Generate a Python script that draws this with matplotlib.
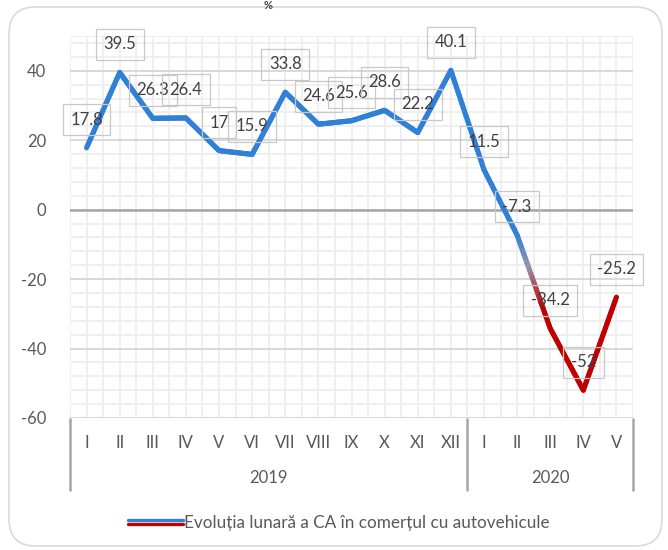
import numpy as np
import matplotlib
matplotlib.use("Agg")
import matplotlib.pyplot as plt
from matplotlib.collections import LineCollection
from matplotlib.colors import LinearSegmentedColormap
from matplotlib.patches import FancyBboxPatch
from matplotlib.lines import Line2D
from matplotlib.legend_handler import HandlerBase
import matplotlib.transforms as mtransforms

# ---------------- data ----------------
months = ["I", "II", "III", "IV", "V", "VI", "VII", "VIII", "IX", "X", "XI", "XII",
          "I", "II", "III", "IV", "V"]
years = ["2019", "2020"]
year_counts = [12, 5]
values = [17.8, 39.5, 26.3, 26.4, 17, 15.9, 33.8, 24.6, 25.6, 28.6, 22.2, 40.1,
          11.5, -7.3, -34.2, -52, -25.2]
series_name = "Evoluția lunară a CA în comerțul cu autovehicule"
y_ticks = [-60, -40, -20, 0, 20, 40]

plt.rcParams['font.family'] = ['Lato', 'DejaVu Sans']

W, H = 668, 550
fig = plt.figure(figsize=(W / 100, H / 100), dpi=100)

# rounded outer border
border = FancyBboxPatch((9 / W, 1 - 546 / H), (662 - 9) / W, (546 - 7) / H,
                        boxstyle="round,pad=0,rounding_size=0.04",
                        transform=fig.transFigure, fc="white", ec="#d9d9d9",
                        lw=1.2, mutation_aspect=W / H, zorder=-10)
fig.patches.append(border)

ax = fig.add_axes([70 / W, 1 - 418 / H, (633 - 70) / W, (418 - 36) / H])
ax.set_facecolor("none")
n = len(values)
x = np.arange(n)
ax.set_xlim(-0.5, n - 0.5)
ax.set_ylim(-60, 50)

# grid
for gx in np.arange(-0.5, n, 0.5):
    ax.axvline(gx, color="#efefef", lw=1.4, zorder=0)
for gy in np.arange(-60, 50.1, 4):
    ax.axhline(gy, color="#efefef", lw=1.4, zorder=0)
ax.axhline(50, color="#efefef", lw=1.4, zorder=0)
for gy in y_ticks:
    ax.axhline(gy, color="#d9d9d9", lw=1.4, zorder=0.5)
ax.axhline(0, color="#a6a6a6", lw=1.8, zorder=1)

for s in ax.spines.values():
    s.set_visible(False)
ax.set_xticks([])
ax.set_yticks(y_ticks)
ax.set_yticklabels([str(t) for t in y_ticks])
ax.tick_params(axis="y", length=0, pad=17, labelsize=12, labelcolor="#595959")

# gradient line
cmap = LinearSegmentedColormap.from_list(
    "bg", [(0, "#2f80d6"), (0.45, "#9a93ad"), (1, "#c00000")])
segs, cols = [], []
for i in range(n - 1):
    xs = np.linspace(x[i], x[i + 1], 25)
    ys = np.linspace(values[i], values[i + 1], 25)
    for k in range(24):
        segs.append([(xs[k], ys[k]), (xs[k + 1], ys[k + 1])])
        xm = 0.5 * (xs[k] + xs[k + 1])
        t = np.clip((xm - 13.0) / 0.8, 0, 1)
        cols.append(cmap(t))
lc = LineCollection(segs, colors=cols, linewidths=3.7, capstyle="round",
                    joinstyle="round", zorder=3)
ax.add_collection(lc)

# data labels
for xi, v in zip(x, values):
    ax.annotate(f"{v:g}", (xi, v), xytext=(0, 20.2), textcoords="offset points",
                ha="center", va="center", fontsize=12, color="#404040", zorder=4,
                bbox=dict(boxstyle="square,pad=0.45", fc="none", ec="#c8c8c8", lw=0.9))

# two-level category axis
trans = mtransforms.blended_transform_factory(ax.transData, ax.transAxes)
ax_h = 418 - 36
for xi, m in zip(x, months):
    ax.text(xi, -25 / ax_h, m, transform=trans, ha="center", va="center",
            fontsize=12, color="#595959")
start = 0
seps = [-0.5]
for yr, c in zip(years, year_counts):
    ax.text(start + (c - 1) / 2, -60 / ax_h, yr, transform=trans, ha="center",
            va="center", fontsize=12, color="#595959")
    start += c
    seps.append(start - 0.5)
for sx in seps:
    ax.plot([sx, sx], [0, -73 / ax_h], transform=trans, color="#a6a6a6", lw=1.8,
            clip_on=False, solid_capstyle="butt")


# legend with blue/red sample
class SplitHandler(HandlerBase):
    def create_artists(self, legend, orig, xd, yd, width, height, fontsize, trans):
        l1 = Line2D([xd, xd + width], [yd + height / 2 + 1.2] * 2, color="#2f80d6",
                    lw=2.4, transform=trans, solid_capstyle="round")
        l2 = Line2D([xd, xd + width], [yd + height / 2 - 1.2] * 2, color="#c00000",
                    lw=2.4, transform=trans, solid_capstyle="round")
        return [l2, l1]


h = Line2D([], [])
fig.legend([h], [series_name], handler_map={Line2D: SplitHandler()},
           loc="center", bbox_to_anchor=(339 / W, 1 - 523 / H), frameon=False,
           fontsize=12.3, labelcolor="#595959", handlelength=3.2, handletextpad=0.1)

# unit label at top
fig.text(268 / W, 1.0, "%", ha="center", va="top", fontsize=8,
         fontweight="bold", color="#404040")

fig.savefig("out.png", dpi=100)
